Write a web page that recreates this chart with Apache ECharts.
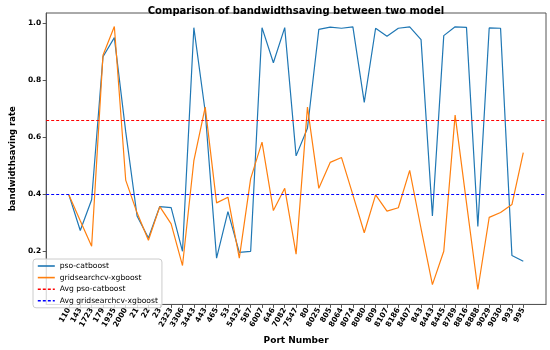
<!DOCTYPE html>
<html><head><meta charset="utf-8">
<script src="https://cdn.jsdelivr.net/npm/echarts@6/dist/echarts.min.js"></script>
<style>html,body{margin:0;padding:0;background:#fff}#c{width:550px;height:350px}</style>
</head><body><div id="c"></div>
<script>
const ports = ['110','143','1723','179','1935','2000','21','22','23','2323','3306','3443','443','465','53','5432','587','6007','646','7082','7547','80','8025','805','8064','8074','8080','809','8107','8186','8407','843','8443','8445','8789','8816','8888','9029','9030','993','995'];
const psoCatboost = [0.398,0.273,0.381,0.883,0.95,0.62,0.324,0.247,0.357,0.353,0.20,0.985,0.69,0.176,0.339,0.196,0.20,0.985,0.862,0.985,0.535,0.632,0.979,0.987,0.983,0.988,0.723,0.983,0.955,0.983,0.988,0.943,0.324,0.957,0.988,0.986,0.287,0.984,0.983,0.185,0.165];
const gridXgboost = [0.398,0.307,0.218,0.888,0.989,0.45,0.335,0.239,0.357,0.296,0.15,0.518,0.706,0.37,0.39,0.176,0.455,0.583,0.343,0.421,0.19,0.706,0.421,0.512,0.529,0.398,0.265,0.398,0.341,0.353,0.484,0.28,0.083,0.20,0.678,0.37,0.066,0.319,0.336,0.364,0.546];
const avgPso = 0.657;
const avgGrid = 0.400;
const yTicks = [0.2,0.4,0.6,0.8,1.0];

const FONT = 'DejaVu Sans';
const chart = echarts.init(document.getElementById('c'), null, {renderer:'canvas'});
const idx = ports.map((p,i)=>i);
const toPairs = arr => arr.map((v,i)=>[i,v]);
chart.setOption({
  animation:false,
  textStyle:{fontFamily:FONT},
  title:{text:'Comparison of bandwidthsaving between two model',left:291,top:1,textAlign:'center',
    textStyle:{fontFamily:FONT,fontWeight:'bold',fontSize:10,color:'#000'}},
  grid:{left:32,right:4,top:13,bottom:40,show:true,borderColor:'#555',borderWidth:1,backgroundColor:'#fff'},
  legend:{orient:'vertical',left:33,top:259,itemWidth:17,itemHeight:8,itemGap:3.6,padding:[3,4,3,4],
    backgroundColor:'rgba(255,255,255,0.8)',borderColor:'#ccc',borderWidth:1,borderRadius:3,
    itemStyle:{opacity:0},lineStyle:{width:1.6},
    textStyle:{fontFamily:FONT,fontSize:7.6,color:'#000'},
    data:['pso-catboost','gridsearchcv-xgboost','Avg pso-catboost','Avg gridsearchcv-xgboost']},
  xAxis:{type:'value',min:-2,max:42,
    name:'Port Number',nameLocation:'middle',nameGap:31,
    nameTextStyle:{fontFamily:FONT,fontWeight:'bold',fontSize:9,color:'#000'},
    axisLine:{show:true,onZero:false,lineStyle:{color:'#555'}},
    axisTick:{show:true,length:3.5,inside:false,customValues:idx,lineStyle:{color:'#555'}},
    axisLabel:{customValues:idx,rotate:60,margin:4,fontFamily:FONT,fontWeight:'bold',fontSize:7.5,color:'#000',
      formatter:v=>ports[Math.round(v)]},
    splitLine:{show:false}},
  yAxis:{type:'value',min:0.0135,max:1.0365,
    name:'bandwidthsaving rate',nameLocation:'middle',nameGap:23,
    nameTextStyle:{fontFamily:FONT,fontWeight:'bold',fontSize:8.5,color:'#000'},
    axisLine:{show:true,onZero:false,lineStyle:{color:'#555'}},
    axisTick:{show:true,length:3.5,customValues:yTicks,lineStyle:{color:'#555'}},
    axisLabel:{customValues:yTicks,margin:5,fontFamily:FONT,fontWeight:'bold',fontSize:7.5,color:'#000',
      formatter:v=>v.toFixed(1)},
    splitLine:{show:false}},
  series:[
    {name:'pso-catboost',type:'line',data:toPairs(psoCatboost),symbol:'none',
      lineStyle:{color:'#1f77b4',width:1.2},itemStyle:{color:'#1f77b4'},z:3},
    {name:'gridsearchcv-xgboost',type:'line',data:toPairs(gridXgboost),symbol:'none',
      lineStyle:{color:'#ff7f0e',width:1.2},itemStyle:{color:'#ff7f0e'},z:4},
    {name:'Avg pso-catboost',type:'line',data:[],symbol:'none',
      lineStyle:{color:'red',width:1,type:[3,2]},itemStyle:{color:'red'},
      markLine:{silent:true,symbol:'none',label:{show:false},lineStyle:{color:'red',width:1,type:[3,2]},data:[{yAxis:avgPso}]}},
    {name:'Avg gridsearchcv-xgboost',type:'line',data:[],symbol:'none',
      lineStyle:{color:'blue',width:1,type:[3,2]},itemStyle:{color:'blue'},
      markLine:{silent:true,symbol:'none',label:{show:false},lineStyle:{color:'blue',width:1,type:[3,2]},data:[{yAxis:avgGrid}]}}
  ]
});
</script></body></html>
